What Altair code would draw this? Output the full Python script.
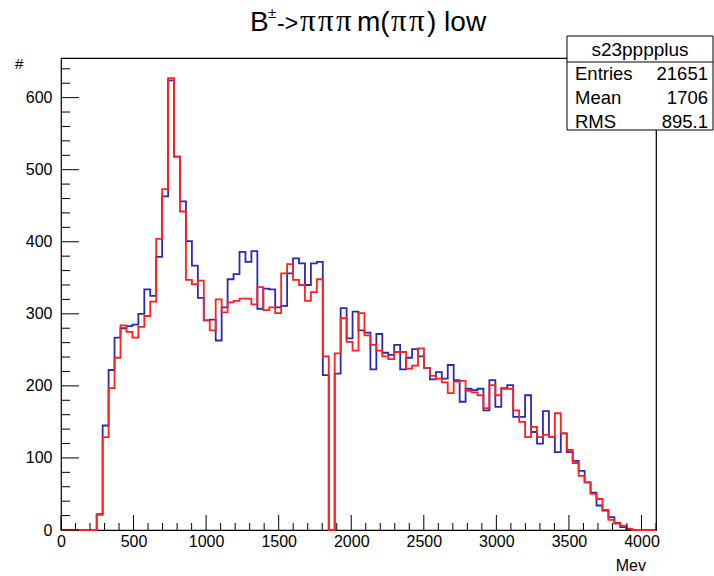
import altair as alt
import pandas as pd

# ---------------- data ----------------
bin_width = 41
n_bins = 100
blue_counts = [0, 0, 0, 0, 0, 0, 22, 145, 222, 267,
               280, 283, 285, 300, 334, 325, 379, 463, 624, 518,
               456, 401, 367, 322, 291, 292, 263, 309, 348, 355,
               386, 372, 387, 307, 335, 334, 309, 311, 356, 377,
               370, 340, 370, 372, 215, 0, 217, 308, 266, 303,
               277, 274, 223, 272, 246, 243, 257, 223, 239, 251,
               241, 225, 209, 219, 210, 229, 208, 178, 196, 194,
               196, 166, 208, 171, 197, 201, 157, 157, 187, 136,
               120, 165, 129, 108, 134, 108, 96, 82, 66, 52,
               34, 27, 18, 10, 4, 1, 0, 0, 0, 0]
red_counts = [0, 0, 0, 0, 0, 0, 21, 129, 197, 239,
              284, 275, 267, 282, 297, 317, 404, 473, 627, 518,
              442, 347, 341, 346, 291, 277, 320, 302, 316, 318,
              321, 321, 313, 337, 305, 309, 301, 356, 369, 347,
              340, 318, 330, 348, 241, 0, 245, 294, 261, 249,
              301, 270, 257, 249, 241, 237, 247, 247, 224, 228,
              252, 225, 214, 210, 205, 190, 206, 207, 193, 191,
              187, 169, 201, 187, 196, 196, 166, 150, 129, 143,
              129, 132, 129, 162, 134, 111, 93, 75, 66, 50,
              43, 28, 14, 9, 6, 2, 0, 0, 0, 0]
x_major = list(range(0, 4001, 500))
x_minor = [v for v in range(0, 4101, 100) if v % 500 != 0]
y_major = list(range(0, 601, 100))
y_minor = [v for v in range(0, 655, 20) if v % 100 != 0]
stat_header = "s23pppplus"
stat_names = ["Entries", "Mean", "RMS"]
stat_values = ["21651", "1706", "895.1"]


def steps(counts):
    xs = [i * bin_width for i in range(n_bins)] + [n_bins * bin_width]
    ys = list(counts) + [counts[-1]]
    return pd.DataFrame({"x": xs, "y": ys})


# ---------------- layout ----------------
W, H = 595, 472
SANS = "Liberation Sans"
SERIF = "Liberation Serif"
BLUE = "#2a2ab4"
RED = "#ff2020"

xscale = alt.Scale(domain=[0, 4100], nice=False, zero=False)
yscale = alt.Scale(domain=[0, 655], nice=False, zero=True)

AX = alt.Axis(values=x_major, ticks=False, domain=False, grid=False, title=None,
              labelFontSize=16, labelFont=SANS, labelColor="black", labelPadding=3,
              labelFlush=False, format="d")
AY = alt.Axis(values=y_major, ticks=False, domain=False, grid=False, title=None,
              labelFontSize=16, labelFont=SANS, labelColor="black", labelPadding=9,
              format="d")

one = pd.DataFrame({"a": [0]})

blue_line = alt.Chart(steps(blue_counts)).mark_line(
    interpolate="step-after", color=BLUE, strokeWidth=1.8
).encode(
    x=alt.X("x:Q", scale=xscale, axis=AX),
    y=alt.Y("y:Q", scale=yscale, axis=AY),
)

red_line = alt.Chart(steps(red_counts)).mark_line(
    interpolate="step-after", color=RED, strokeWidth=1.8
).encode(
    x=alt.X("x:Q", scale=xscale, axis=AX),
    y=alt.Y("y:Q", scale=yscale, axis=AY),
)

xt_major = alt.Chart(pd.DataFrame({"x": x_major})).mark_rule(color="black", strokeWidth=1).encode(
    x=alt.X("x:Q", scale=xscale, axis=AX), y=alt.value(H), y2=alt.value(H - 15))
xt_minor = alt.Chart(pd.DataFrame({"x": x_minor})).mark_rule(color="black", strokeWidth=1).encode(
    x=alt.X("x:Q", scale=xscale, axis=AX), y=alt.value(H), y2=alt.value(H - 7))
yt_major = alt.Chart(pd.DataFrame({"y": y_major})).mark_rule(color="black", strokeWidth=1).encode(
    y=alt.Y("y:Q", scale=yscale, axis=AY), x=alt.value(0), x2=alt.value(18))
yt_minor = alt.Chart(pd.DataFrame({"y": y_minor})).mark_rule(color="black", strokeWidth=1).encode(
    y=alt.Y("y:Q", scale=yscale, axis=AY), x=alt.value(0), x2=alt.value(9))


def txt(s, x, y, size=16, font=SANS, align="left"):
    return alt.Chart(one).mark_text(
        align=align, baseline="alphabetic", fontSize=size, font=font, color="black"
    ).encode(x=alt.value(x), y=alt.value(y), text=alt.value(s))


# title pieces (plot-area coordinates; origin at frame top-left)
TB = -27
PI_SIZE = 31
title = [
    txt("B", 189, TB, 28),
    txt("±", 207, TB - 13, 15),
    txt("->", 216, TB, 23),
    txt("π", 239, TB, PI_SIZE, SERIF),
    txt("π", 257, TB, PI_SIZE, SERIF),
    txt("π", 275, TB, PI_SIZE, SERIF),
    txt("m(", 296, TB, 28),
    txt("π", 330, TB, PI_SIZE, SERIF),
    txt("π", 348, TB, PI_SIZE, SERIF),
    txt(") low", 366, TB, 28),
]

axis_titles = [
    txt("#", -46, 11, 15),
    txt("Mev", 585, 513, 16, align="right"),
]

# stats box
BX0, BX1, BY0, BY1 = 506, 652, -22, 72
SF = 18.5
box = alt.Chart(one).mark_rect(fill="white", stroke="black", strokeWidth=1).encode(
    x=alt.value(BX0), x2=alt.value(BX1), y=alt.value(BY0), y2=alt.value(BY1))
sep = alt.Chart(one).mark_rule(color="black", strokeWidth=1).encode(
    x=alt.value(BX0), x2=alt.value(BX1), y=alt.value(4))
stats = [txt(stat_header, 579, -2, 19, align="center")]
for i, (n, v) in enumerate(zip(stat_names, stat_values)):
    stats.append(txt(n, 514, 22 + 24 * i, SF))
    stats.append(txt(v, 647, 22 + 24 * i, SF, align="right"))

chart = alt.layer(
    blue_line, red_line, xt_major, xt_minor, yt_major, yt_minor,
    box, sep, *stats, *title, *axis_titles
).properties(
    width=W, height=H,
    padding={"left": 61, "top": 58, "right": 58, "bottom": 46},
    autosize=alt.AutoSizeParams(type="none"),
    background="white",
).configure_view(stroke="black", strokeWidth=1.2)

chart.save("out.html", embed_options={"renderer": "svg", "actions": False})
